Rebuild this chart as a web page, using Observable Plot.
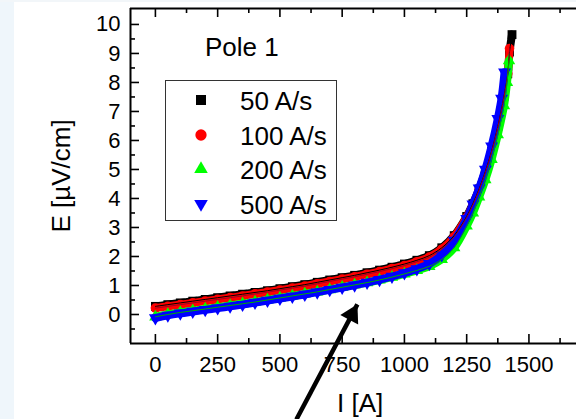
<!DOCTYPE html>
<html><head><meta charset="utf-8">
<script src="https://cdn.jsdelivr.net/npm/d3@7"></script>
<script src="https://cdn.jsdelivr.net/npm/@observablehq/plot@0.6"></script>
<style>
html,body{margin:0;padding:0;background:#fff;}
#wrap{position:relative;width:576px;height:419px;overflow:hidden;font-family:"Liberation Sans",Arial,sans-serif;color:#000;}
#strip{position:absolute;left:0;top:0;width:14px;height:419px;background:#eff6fb;}
#topstrip{position:absolute;left:0;top:0;width:576px;height:2px;background:#f2f6f9;}
#chart{position:absolute;left:0;top:0;}
#chart svg text{font-family:"Liberation Sans",Arial,sans-serif !important;font-size:22px !important;}
.ov{position:absolute;white-space:nowrap;line-height:1;}
#legend{position:absolute;left:165px;top:80px;width:170px;height:139px;border:1.5px solid #333;background:#fff;}
</style></head><body>
<div id="wrap"><div id="strip"></div><div id="topstrip"></div><div id="chart"></div></div>
<script>
// ---- data ----
const i50  = [0,50,100,150,200,250,300,350,400,450,500,550,600,650,700,750,800,850,900,950,1000,1050,1100,1150,1200,1250,1275,1300,1325,1350,1375,1400,1415,1422,1432];
const e50  = [0.28,0.34,0.40,0.46,0.52,0.58,0.64,0.70,0.76,0.82,0.89,0.96,1.03,1.11,1.19,1.27,1.35,1.44,1.53,1.63,1.74,1.87,2.03,2.30,2.72,3.38,3.82,4.33,4.93,5.63,6.48,7.53,8.30,9.05,9.65];
const i100 = [0,50,100,150,200,250,300,350,400,450,500,550,600,650,700,750,800,850,900,950,1000,1050,1100,1150,1200,1250,1275,1300,1325,1350,1375,1400,1415,1422];
const e100 = [0.22,0.28,0.34,0.40,0.46,0.52,0.58,0.64,0.71,0.77,0.84,0.91,0.98,1.06,1.14,1.22,1.30,1.39,1.48,1.58,1.69,1.82,1.98,2.25,2.68,3.35,3.78,4.30,4.90,5.60,6.45,7.50,8.30,9.17];
const i200 = [0,50,100,150,200,250,300,350,400,450,500,550,600,650,700,750,800,850,900,950,1000,1050,1100,1150,1200,1250,1275,1300,1325,1350,1375,1400,1412,1420];
const e200 = [-0.08,0.00,0.07,0.13,0.19,0.25,0.31,0.37,0.43,0.50,0.57,0.64,0.71,0.78,0.86,0.94,1.02,1.10,1.19,1.29,1.40,1.52,1.66,1.90,2.30,3.05,3.50,4.05,4.65,5.35,6.20,7.20,8.00,8.75];
const i500 = [0,50,100,150,200,250,300,350,400,450,500,550,600,650,700,750,800,850,900,950,1000,1050,1100,1150,1200,1250,1275,1300,1325,1350,1375,1390,1402];
const e500 = [-0.12,-0.03,0.04,0.10,0.16,0.22,0.28,0.34,0.41,0.48,0.55,0.62,0.69,0.77,0.85,0.93,1.01,1.10,1.20,1.31,1.43,1.57,1.75,2.05,2.55,3.30,3.80,4.35,5.00,5.80,6.75,7.45,8.35];
const seriesNames = ["50 A/s","100 A/s","200 A/s","500 A/s"];
const xMajorTicks = [0,250,500,750,1000,1250,1500];
const xMinorTicks = [125,375,625,875,1125,1375,1625];
const yMajorTicks = [0,1,2,3,4,5,6,7,8,9,10];
const yMinorTicks = [-0.5,0.5,1.5,2.5,3.5,4.5,5.5,6.5,7.5,8.5,9.5];
const arrowAnnot = [{i1:566, e1:-3.62, i2:811, e2:0.35}];
const titleText = "Pole 1";
const xLabel = "I [A]";
const yLabel = "E [\u00B5V/cm]";

// ---- build ----
const S3 = Math.sqrt(3);
const triDown = {draw(ctx, size){ const y = -Math.sqrt(size/(S3*3)); ctx.moveTo(0,-y*2); ctx.lineTo(-S3*y,y); ctx.lineTo(S3*y,y); ctx.closePath(); }};
const series = [
  {name:seriesNames[0], I:i50,  E:e50,  color:"#000000", symbol:"square",   r:5,   fit:"#000000"},
  {name:seriesNames[1], I:i100, E:e100, color:"#ff0000", symbol:"circle",   r:4.8, fit:"#a00020"},
  {name:seriesNames[2], I:i200, E:e200, color:"#00ff00", symbol:"triangle", r:4.6, fit:"#00b000"},
  {name:seriesNames[3], I:i500, E:e500, color:"#0000ff", symbol:triDown,    r:4.8, fit:null}
];
series.forEach(s => s.rows = s.I.map((x,k)=>({I:x, E:s.E[k]})));

const W = 576, H = 419, mL = 130, mT = 8, mB = 76, mR = 0;
const ph = H - mT - mB, pw = W - mL - mR;
const marks = [];
for (const s of series) {
  marks.push(Plot.line(s.rows, {x:"I", y:"E", stroke:s.color, strokeWidth:8, curve:"catmull-rom"}));
  marks.push(Plot.dot(s.rows, {x:"I", y:"E", fill:s.color, symbol:s.symbol, r:s.r, stroke:"none"}));
}
for (const s of series) if (s.fit) marks.push(Plot.line(s.rows, {x:"I", y:"E", stroke:s.fit, strokeWidth:1, curve:"catmull-rom"}));
// arrow direction in pixels, for the filled head
const ax = (arrowAnnot[0].i2-arrowAnnot[0].i1)*pw/1791, ay = -(arrowAnnot[0].e2-arrowAnnot[0].e1)*ph/11.55;
const alen = Math.hypot(ax, ay), ux = ax/alen, uy = ay/alen;
const headAngle = Math.atan2(ux, -uy)*180/Math.PI;
marks.push(
  Plot.tickX(xMajorTicks, {x:d=>d, insetTop:ph-9, stroke:"#000", strokeWidth:1.6}),
  Plot.tickX(xMajorTicks, {x:d=>d, insetBottom:ph-9, stroke:"#000", strokeWidth:1.6}),
  Plot.tickX(xMinorTicks, {x:d=>d, insetTop:ph-5, stroke:"#000", strokeWidth:1.6}),
  Plot.tickX(xMinorTicks, {x:d=>d, insetBottom:ph-5, stroke:"#000", strokeWidth:1.6}),
  Plot.tickY(yMajorTicks, {y:d=>d, insetRight:pw-9, stroke:"#000", strokeWidth:1.6}),
  Plot.tickY(yMinorTicks, {y:d=>d, insetRight:pw-5, stroke:"#000", strokeWidth:1.6}),
  Plot.ruleX([-100], {stroke:"#000", strokeWidth:2}),
  Plot.ruleY([-1], {stroke:"#000", strokeWidth:2}),
  Plot.ruleY([10.55], {stroke:"#000", strokeWidth:2}),
  Plot.axisX(xMajorTicks, {tickSize:0, tickPadding:13, label:null, tickFormat:d=>String(d)}),
  Plot.axisY(yMajorTicks, {tickSize:0, tickPadding:10, label:null, tickFormat:d=>String(d)}),
  Plot.link(arrowAnnot, {x1:"i1", y1:"e1", x2:"i2", y2:"e2", stroke:"#000", strokeWidth:4.5, insetEnd:8}),
  Plot.dot(arrowAnnot, {x:"i2", y:"e2", symbol:"triangle", r:7.5, fill:"#000", stroke:"none", rotate:headAngle, dx:-ux*11.5, dy:-uy*11.5})
);

const chart = Plot.plot({
  width:W, height:H, marginLeft:mL, marginTop:mT, marginBottom:mB, marginRight:mR,
  x:{domain:[-100,1691]}, y:{domain:[-1,10.55]},
  style:{fontFamily:"'Liberation Sans', Arial, sans-serif", fontSize:"22px", color:"#000", background:"transparent", overflow:"visible"},
  marks
});
document.getElementById("chart").appendChild(chart);

const wrap = document.getElementById("wrap");
function addText(txt, css){ const d=document.createElement("div"); d.className="ov"; d.textContent=txt; Object.assign(d.style, css); wrap.appendChild(d); return d; }
addText(titleText, {left:"205px", top:"34px", fontSize:"26px"});
addText(xLabel, {left:"337px", top:"390px", fontSize:"26px"});
addText(yLabel, {left:"61px", top:"176px", fontSize:"26px", transform:"translate(-50%,-50%) rotate(-90deg)"});

// legend
const lg = document.createElement("div"); lg.id="legend"; wrap.appendChild(lg);
const legendSize = [100, 100, 80, 80];
series.forEach((s,k)=>{
  const row = document.createElement("div");
  row.style.cssText = `position:absolute;left:0;top:${k*34.7+2}px;height:34px;width:170px;`;
  const svg = d3.create("svg").attr("width",40).attr("height",34).style("position","absolute").style("left","15px").style("top","0");
  const symType = s.symbol==="square"?d3.symbolSquare:s.symbol==="circle"?d3.symbolCircle:s.symbol==="triangle"?d3.symbolTriangle:triDown;
  svg.append("path").attr("transform","translate(20,17)").attr("d", d3.symbol(symType, legendSize[k])()).attr("fill", s.color);
  row.appendChild(svg.node());
  const t = document.createElement("div"); t.className="ov"; t.textContent=s.name;
  t.style.cssText += "position:absolute;left:74px;top:5px;font-size:26px;";
  row.appendChild(t);
  lg.appendChild(row);
});
</script>
</body></html>
